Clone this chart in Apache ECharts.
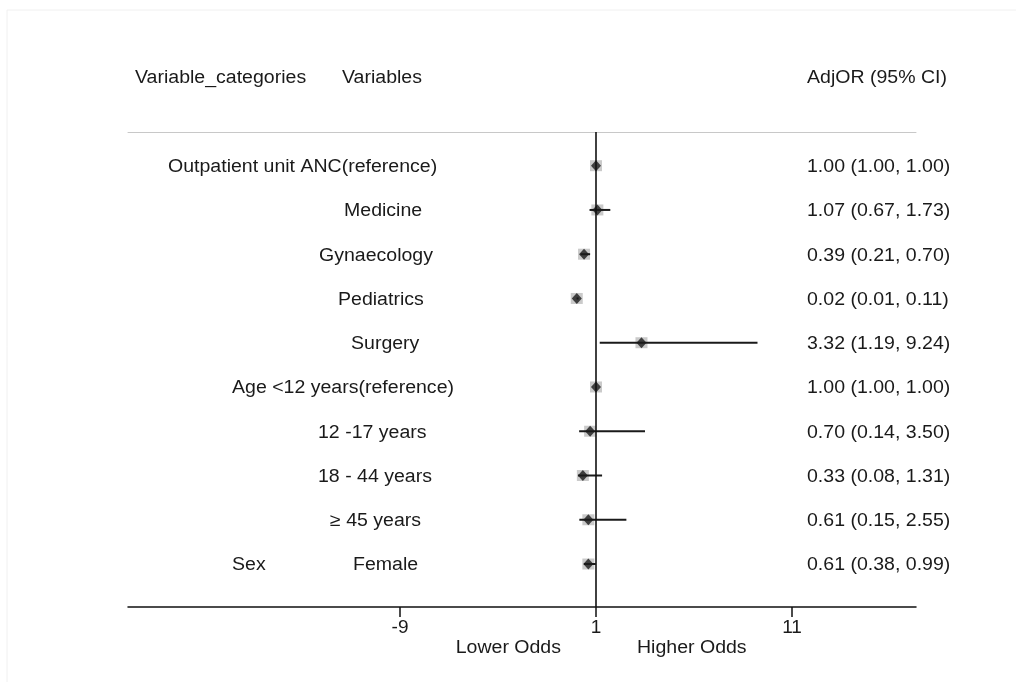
<!DOCTYPE html>
<html>
<head>
<meta charset="utf-8">
<title>Adjusted odds ratios</title>
<script src="https://cdn.jsdelivr.net/npm/echarts@6/dist/echarts.min.js"></script>
<style>
  html, body { margin: 0; padding: 0; background: #ffffff; }
  #chart { width: 1016px; height: 682px; }
</style>
</head>
<body>
<div id="chart"></div>
<script>
// Row labels: first text column (variable category) and second (variable level)
const varCategories = ['Outpatient unit ANC(reference)', '', '', '', '', 'Age <12 years(reference)', '', '', '', 'Sex'];
const variables = ['', 'Medicine', 'Gynaecology', 'Pediatrics', 'Surgery', '', '12 -17 years', '18 - 44 years', '\u2265 45 years', 'Female'];

// Adjusted odds ratios with 95% confidence limits
const adjOR = [1.00, 1.07, 0.39, 0.02, 3.32, 1.00, 0.70, 0.33, 0.61, 0.61];
const ciLow = [1.00, 0.67, 0.21, 0.01, 1.19, 1.00, 0.14, 0.08, 0.15, 0.38];
const ciHigh = [1.00, 1.73, 0.70, 0.11, 9.24, 1.00, 3.50, 1.31, 2.55, 0.99];

// x-axis ticks and the null-effect reference value
const xTicks = [-9, 1, 11];
const nullValue = 1;

// Layout: left edge (px) of each row label in the two text columns
const categoryLeft = [168, 0, 0, 0, 0, 232, 0, 0, 0, 232];
const variableLeft = [0, 344, 319, 338, 351, 0, 318, 318, 330, 353];
const estimateLeft = 807;

const FONT = "'Liberation Sans', Arial, Helvetica, sans-serif";
const TEXT_COLOR = '#1a1a1a';
const FS = 18;
const SX = 1.085;
const ROW_TEXT_SHIFT = 1.5;

const fmt = v => v.toFixed(2);
const rows = adjOR.map((v, i) => i);

const chart = echarts.init(document.getElementById('chart'), null, { renderer: 'canvas' });

function textEl(str, x, y, align) {
  return {
    type: 'text',
    x: x, y: y,
    scaleX: SX,
    style: {
      text: str,
      fill: TEXT_COLOR,
      font: FS + 'px ' + FONT,
      align: align || 'left',
      verticalAlign: 'middle'
    }
  };
}

chart.setOption({
  animation: false,
  backgroundColor: '#ffffff',
  grid: { left: 128, right: 100, top: 132, bottom: 75, containLabel: false },
  xAxis: [
    {
      type: 'value',
      position: 'bottom',
      min: -22.878,
      max: 17.327,
      axisLine: { show: true, onZero: false, lineStyle: { color: '#111111', width: 1.5 } },
      axisTick: { show: true, customValues: xTicks, length: 10, lineStyle: { color: '#111111', width: 1.5 } },
      axisLabel: { customValues: xTicks, fontSize: 19, fontFamily: FONT, color: TEXT_COLOR, margin: 11 },
      splitLine: { show: false }
    },
    {
      type: 'value',
      position: 'top',
      min: -22.878,
      max: 17.327,
      axisLine: { show: true, onZero: false, lineStyle: { color: '#c8c8c8', width: 1 } },
      axisTick: { show: false },
      axisLabel: { show: false },
      splitLine: { show: false }
    }
  ],
  yAxis: {
    type: 'value',
    inverse: true,
    min: 0.239,
    max: 10.971,
    show: false
  },
  graphic: [
    { type: 'rect', shape: { x: 7, y: 10, width: 1030, height: 700 }, style: { fill: 'none', stroke: '#f0f0f0', lineWidth: 1 }, silent: true },
    textEl('Variable_categories', 135, 78),
    textEl('Variables', 342, 78),
    textEl('AdjOR (95% CI)', estimateLeft, 78),
    textEl('Lower Odds', 561, 648, 'right'),
    textEl('Higher Odds', 637, 648, 'left')
  ],
  series: [
    {
      // weight boxes
      type: 'scatter',
      silent: true,
      symbol: 'rect',
      symbolSize: [12, 11],
      itemStyle: { color: '#bdbdbd' },
      data: rows.map(i => [adjOR[i], i + 1]),
      z: 2
    },
    {
      // confidence intervals and the null line
      type: 'custom',
      silent: true,
      data: rows.map(i => [ciLow[i], ciHigh[i], i + 1]),
      renderItem: function (params, api) {
        const a = api.coord([api.value(0), api.value(2)]);
        const b = api.coord([api.value(1), api.value(2)]);
        return {
          type: 'line',
          shape: { x1: a[0], y1: a[1], x2: b[0], y2: b[1] },
          style: { stroke: '#1a1a1a', lineWidth: 2 }
        };
      },
      markLine: {
        silent: true,
        symbol: 'none',
        label: { show: false },
        lineStyle: { color: '#111111', width: 1.6, type: 'solid' },
        data: [{ xAxis: nullValue }]
      },
      z: 3
    },
    {
      // point estimates
      type: 'scatter',
      silent: true,
      symbol: 'diamond',
      symbolSize: [10, 11],
      itemStyle: { color: '#1a1a1a' },
      data: rows.map(i => [adjOR[i], i + 1]),
      z: 4
    },
    {
      // text columns
      type: 'custom',
      silent: true,
      data: rows.map(i => [i + 1]),
      renderItem: function (params, api) {
        const i = params.dataIndex;
        const y = api.coord([nullValue, api.value(0)])[1] + ROW_TEXT_SHIFT;
        const children = [];
        if (varCategories[i]) children.push(textEl(varCategories[i], categoryLeft[i], y));
        if (variables[i]) children.push(textEl(variables[i], variableLeft[i], y));
        children.push(textEl(fmt(adjOR[i]) + ' (' + fmt(ciLow[i]) + ', ' + fmt(ciHigh[i]) + ')', estimateLeft, y));
        return { type: 'group', children: children };
      },
      z: 5
    }
  ]
});
</script>
</body>
</html>
